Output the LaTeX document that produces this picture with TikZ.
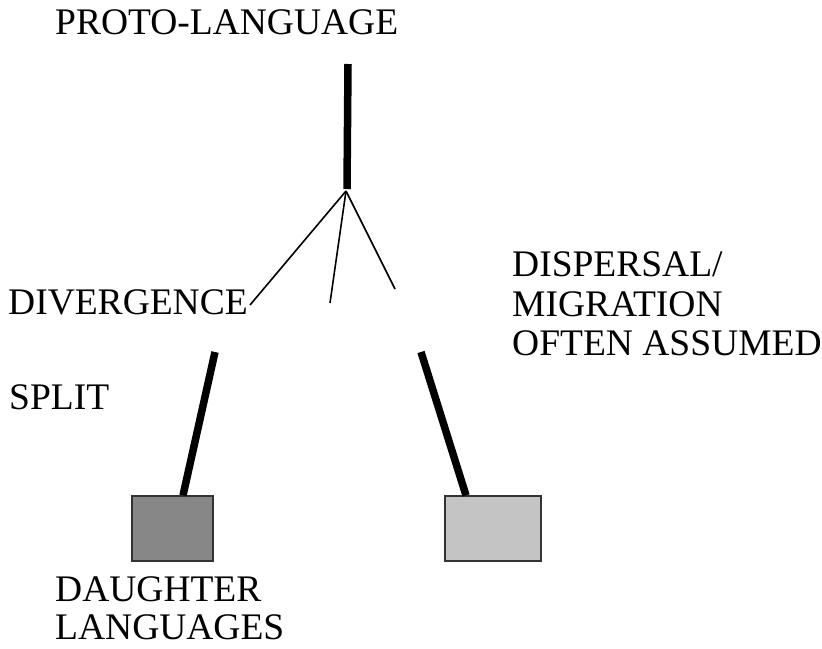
\documentclass[tikz,border=0pt]{standalone}
\usepackage{fontspec}
\setmainfont{Liberation Serif}
\begin{document}
\begin{tikzpicture}[x=1pt,y=-1pt,
  lbl/.style={anchor=base west,inner sep=0pt,font=\fontsize{37.5}{40}\selectfont},
  thick line/.style={line width=7.5pt},
  thin line/.style={line width=1.6pt},
  langbox/.style={draw=black!80,line width=1.2pt,inner sep=0pt,minimum height=65pt}]
\useasboundingbox (0,0) rectangle (822,648);
% labels
\node[lbl] (proto) at (55,34.5) {PROTO-LANGUAGE};
\node[lbl] (div) at (8,314) {DIVERGENCE};
\node[lbl] (split) at (9,409) {SPLIT};
\node[lbl] (disp1) at (512,276) {DISPERSAL/};
\node[lbl] (disp2) at (512,316) {MIGRATION};
\node[lbl] (disp3) at (512,355) {OFTEN ASSUMED};
\node[lbl] (dau1) at (55,601) {DAUGHTER};
\node[lbl] (dau2) at (55,639) {LANGUAGES};
% trunk and fork
\coordinate (ttop) at (348,64);
\coordinate (trunkend) at (347,189);
\coordinate (fork) at (346,191);
\coordinate (bl) at (250,305);
\coordinate (bm) at (330,303);
\coordinate (br) at (395,289);
\draw[thick line] (ttop) -- (trunkend);
\draw[thin line] (fork) -- (bl);
\draw[thin line] (fork) -- (bm);
\draw[thin line] (fork) -- (br);
% daughter languages
\node[langbox,fill=black!47,minimum width=81pt] (boxl) at (172.5,528.5) {};
\node[langbox,fill=black!23,minimum width=96pt] (boxr) at (493,528.5) {};
\coordinate (sl) at (215,352);
\coordinate (sr) at (421,352);
\draw[thick line] (sl) -- (boxl.north west -| 183,0);
\draw[thick line] (sr) -- (boxr.north west -| 466,0);
\end{tikzpicture}
\end{document}
